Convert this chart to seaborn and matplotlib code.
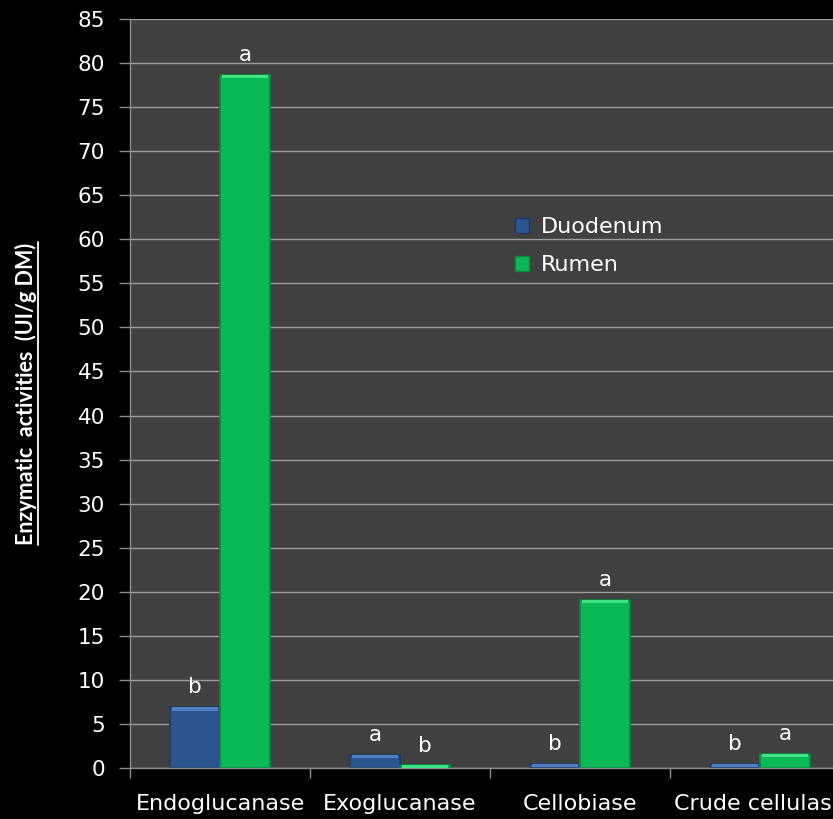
import matplotlib
matplotlib.use("Agg")
import matplotlib.pyplot as plt
import seaborn as sns
import pandas as pd
import numpy as np
from matplotlib.patches import Rectangle
from matplotlib.lines import Line2D

enzymes = ["Endoglucanase", "Exoglucanase", "Cellobiase", "Crude cellulase"]
sites = ["Duodenum", "Rumen"]
duodenum = [6.9, 1.5, 0.5, 0.5]
rumen = [78.7, 0.3, 19.1, 1.6]
duodenum_letters = ["b", "a", "b", "b"]
rumen_letters = ["a", "b", "a", "a"]
yticks = list(range(0, 90, 5))

df = pd.DataFrame({
    "enzyme": enzymes * 2,
    "site": [sites[0]] * 4 + [sites[1]] * 4,
    "value": duodenum + rumen,
    "letter": duodenum_letters + rumen_letters,
})

sns.set_theme(style="dark")
plt.rcParams["font.family"] = ["DejaVu Sans"]

fill = {"Duodenum": "#2b5590", "Rumen": "#09b955"}
edge = {"Duodenum": "#1c3a66", "Rumen": "#068a3e"}
cap = {"Duodenum": "#4f7ec2", "Rumen": "#40e284"}

fig = plt.figure(figsize=(8.33, 8.19), dpi=100, facecolor="black")
ax = fig.add_axes([130 / 833, 1 - 768 / 819, 720 / 833, 749 / 819])
ax.set_facecolor("#404040")

sns.barplot(data=df, x="enzyme", y="value", hue="site", order=enzymes,
            hue_order=sites, palette=fill, width=0.556, saturation=1,
            errorbar=None, ax=ax, legend=True)

# bevelled look: darker rim and a lighter cap strip on each bar
for cont, site in zip(ax.containers, sites):
    sub = df[df.site == site].set_index("enzyme").loc[enzymes]
    for patch, (_, row) in zip(cont.patches, sub.iterrows()):
        patch.set_edgecolor(edge[site])
        patch.set_linewidth(1.2)
        x0, w, h = patch.get_x(), patch.get_width(), patch.get_height()
        ch = min(h, 0.4)
        ax.add_patch(Rectangle((x0 + w * 0.04, h - ch), w * 0.92, ch,
                               facecolor=cap[site], edgecolor="none", zorder=3))
        ax.annotate(row["letter"], (x0 + w / 2, h), xytext=(0, 7),
                    textcoords="offset points", ha="center", va="bottom",
                    color="white", fontsize=15.5)

ax.set_ylim(0, 85)
ax.set_xlim(-0.5, 3.5)
ax.set_yticks(yticks)
ax.grid(axis="y", color="#9c9c9c", linewidth=1)
ax.grid(axis="x", visible=False)
ax.set_axisbelow(True)

ax.tick_params(axis="y", colors="#8c8c8c", labelcolor="white", labelsize=15.5,
               length=8, width=1, left=True, pad=10)
ax.set_xticks(range(len(enzymes)))
ax.set_xticklabels(enzymes)
ax.set_xticks(np.arange(-0.5, 4.0, 1.0), minor=True)
ax.tick_params(axis="x", which="major", length=0, labelcolor="white",
               labelsize=16, pad=19)
ax.tick_params(axis="x", which="minor", length=7, width=1, color="#8c8c8c",
               bottom=True)

for s in ["top", "right"]:
    ax.spines[s].set_visible(False)
ax.spines["left"].set_color("#8c8c8c")
ax.spines["bottom"].set_color("#8c8c8c")
ax.spines["left"].set_linewidth(1)
ax.spines["bottom"].set_linewidth(1)

ax.set_xlabel("")
ylab = ax.set_ylabel("Enzymatic  activities  (UI/g DM)", color="white",
                     fontsize=15.5, fontweight="bold", family="Lato",
                     labelpad=29)

leg = ax.legend(loc="upper left", bbox_to_anchor=(0.507, 0.762), frameon=False,
                fontsize=16, labelcolor="white", handlelength=0.65,
                handleheight=0.65, handletextpad=0.5, labelspacing=0.8)
for h, site in zip(leg.legend_handles, sites):
    h.set_edgecolor(edge[site])

# underline the rotated axis title along its right-hand side
fig.canvas.draw()
bb = ylab.get_window_extent(fig.canvas.get_renderer())
inv = fig.transFigure.inverted()
(x0f, y0f), (x1f, y1f) = inv.transform([(bb.x0, bb.y0), (bb.x1, bb.y1)])
ux = x1f + 1.0 / 833
fig.add_artist(Line2D([ux, ux], [y0f, y1f], color="white", linewidth=1.3,
                      transform=fig.transFigure))

fig.savefig("out.png", dpi=100, facecolor="black")
